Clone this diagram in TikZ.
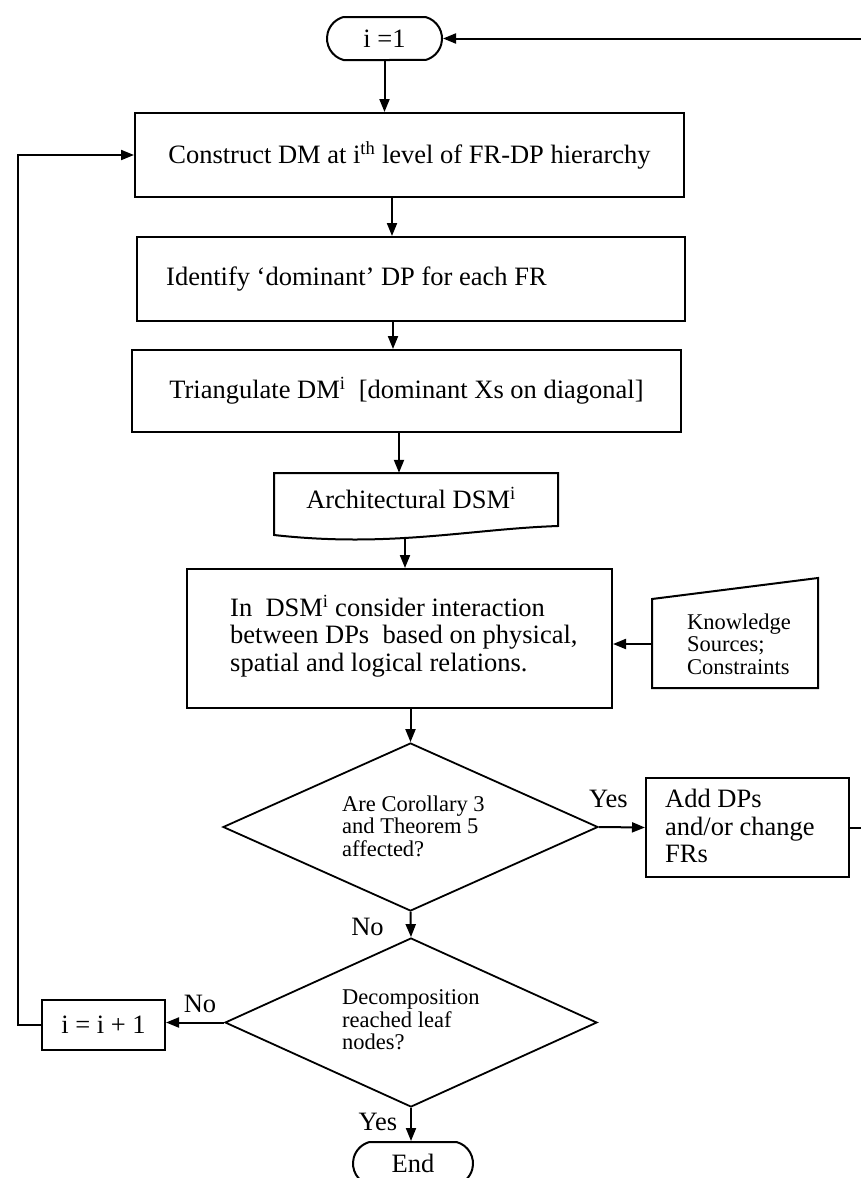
\documentclass[tikz,border=0pt]{standalone}
\usepackage{fontspec}
\setmainfont{Liberation Serif}
\usetikzlibrary{arrows.meta,shapes.geometric,shapes.misc}
\begin{document}
\begin{tikzpicture}[x=1pt,y=-1pt,
  every node/.style={font=\fontsize{26.5}{27.5}\selectfont},
  line/.style={line width=2pt, draw=black},
  arr/.style={line, -{Triangle[length=13pt,width=10pt]}},
  stepbox/.style={draw=black, line width=2pt, rectangle, inner sep=0pt},
  term/.style={draw=black, line width=2pt, rounded rectangle,
    rounded rectangle arc length=150, minimum height=43pt, inner sep=0pt},
  decision/.style={draw=black, line width=1.8pt, diamond, inner sep=0pt},
  small/.style={font=\fontsize{22.5}{22.5}\selectfont},
  txt/.style={inner sep=0pt, align=left},
  lbl/.style={inner sep=0pt, anchor=base},
  ghost/.style={rectangle, inner sep=0pt},
]
% canvas
\fill[white] (0,0) rectangle (861,1178);
\useasboundingbox (0,0) rectangle (861,1178);

% main column
\node[term, minimum width=115pt] (start) at (384.5,38.5) {i =1};
\node[stepbox, minimum width=549pt, minimum height=84pt] (construct) at (409.5,155)
  {Construct DM at i\textsuperscript{th} level of FR-DP hierarchy};
\node[stepbox, minimum width=548pt, minimum height=84pt] (identify) at (411,279) {};
\node[txt, anchor=west] (idtxt) at (166,279) {Identify ‘dominant’ DP for each FR};
\node[stepbox, minimum width=549pt, minimum height=82pt] (triang) at (406.5,391)
  {Triangulate DM\textsuperscript{i}\ \ [dominant Xs on diagonal]};

% document symbol with a wavy lower edge
\draw[line] (274,473) -- (558,473) -- (558,526)
  .. controls (470,529) and (390,548) .. (274,535) -- cycle;
\node[ghost, minimum width=284pt, minimum height=64pt] (archbox) at (416,505) {};
\node[inner sep=0pt] (archtxt) at (411,498) {Architectural DSM\textsuperscript{i}};

\node[stepbox, minimum width=425pt, minimum height=139pt] (dsm) at (399.5,638.5) {};
\node[txt, anchor=west] (dsmtxt) at (230,636)
  {In\ \ DSM\textsuperscript{i} consider interaction\\
   between DPs\ \ based on physical,\\
   spatial and logical relations.};

% manual input symbol
\draw[line] (652,599) -- (818,578) -- (818,688) -- (652,688) -- cycle;
\node[ghost, minimum width=166pt, minimum height=110pt] (kb) at (735,633) {};
\node[txt, small, anchor=west] (kbtxt) at (687,644)
  {Knowledge\\Sources;\\Constraints};

% decisions
\node[decision, minimum width=375pt, minimum height=168pt] (d1) at (410.5,827) {};
\node[txt, small, anchor=west] (d1txt) at (342,826)
  {Are Corollary 3\\and Theorem 5\\affected?};
\node[stepbox, minimum width=203pt, minimum height=99pt] (add) at (747.5,827.5) {};
\node[txt, anchor=west] (addtxt) at (665,826) {Add DPs\\and/or change\\FRs};

\node[decision, minimum width=372pt, minimum height=169pt] (d2) at (411,1022.5) {};
\node[txt, small, anchor=west] (d2txt) at (342,1020)
  {Decomposition\\reached leaf\\nodes?};
\node[stepbox, minimum width=123pt, minimum height=50pt] (inc) at (103.5,1025) {i = i + 1};
\node[term, minimum width=120pt] (end) at (413,1163.5) {End};

% branch labels
\node[lbl] (yes1) at (608.5,807) {Yes};
\node[lbl] (no1) at (367.5,935) {No};
\node[lbl] (no2) at (200,1012) {No};
\node[lbl] (yes2) at (378,1130) {Yes};

% helper positions for the connectors
\coordinate (lx) at (18,0);
\coordinate (rx) at (862,0);
\coordinate (ky) at (0,644);
\coordinate (c1) at (392,0);
\coordinate (c2) at (393,0);
\coordinate (c3) at (399,0);
\coordinate (c4) at (405,0);

% connectors
\draw[arr] (start.south) -- (start.south |- construct.north);
\draw[arr] (construct.south -| c1) -- (identify.north -| c1);
\draw[arr] (identify.south -| c2) -- (triang.north -| c2);
\draw[arr] (triang.south -| c3) -- (archbox.north -| c3);
\draw[arr] (archbox.south -| c4) -- (dsm.north -| c4);
\draw[arr] (dsm.south -| d1.north) -- (d1.north);
\draw[arr] (kb.west |- ky) -- (dsm.east |- ky);
\draw[arr] (d1.east) -- (add.west);
\draw[arr] (d1.south) -- (d2.north);
\draw[arr] (d2.west) -- (d2.west -| inc.east);
\draw[arr] (d2.south) -- (d2.south |- end.north);
\draw[arr] (inc.west) -- (inc.west -| lx) |- (construct.west);
\draw[arr] (add.east) -- (add.east -| rx) |- (start.east);
\end{tikzpicture}
\end{document}
